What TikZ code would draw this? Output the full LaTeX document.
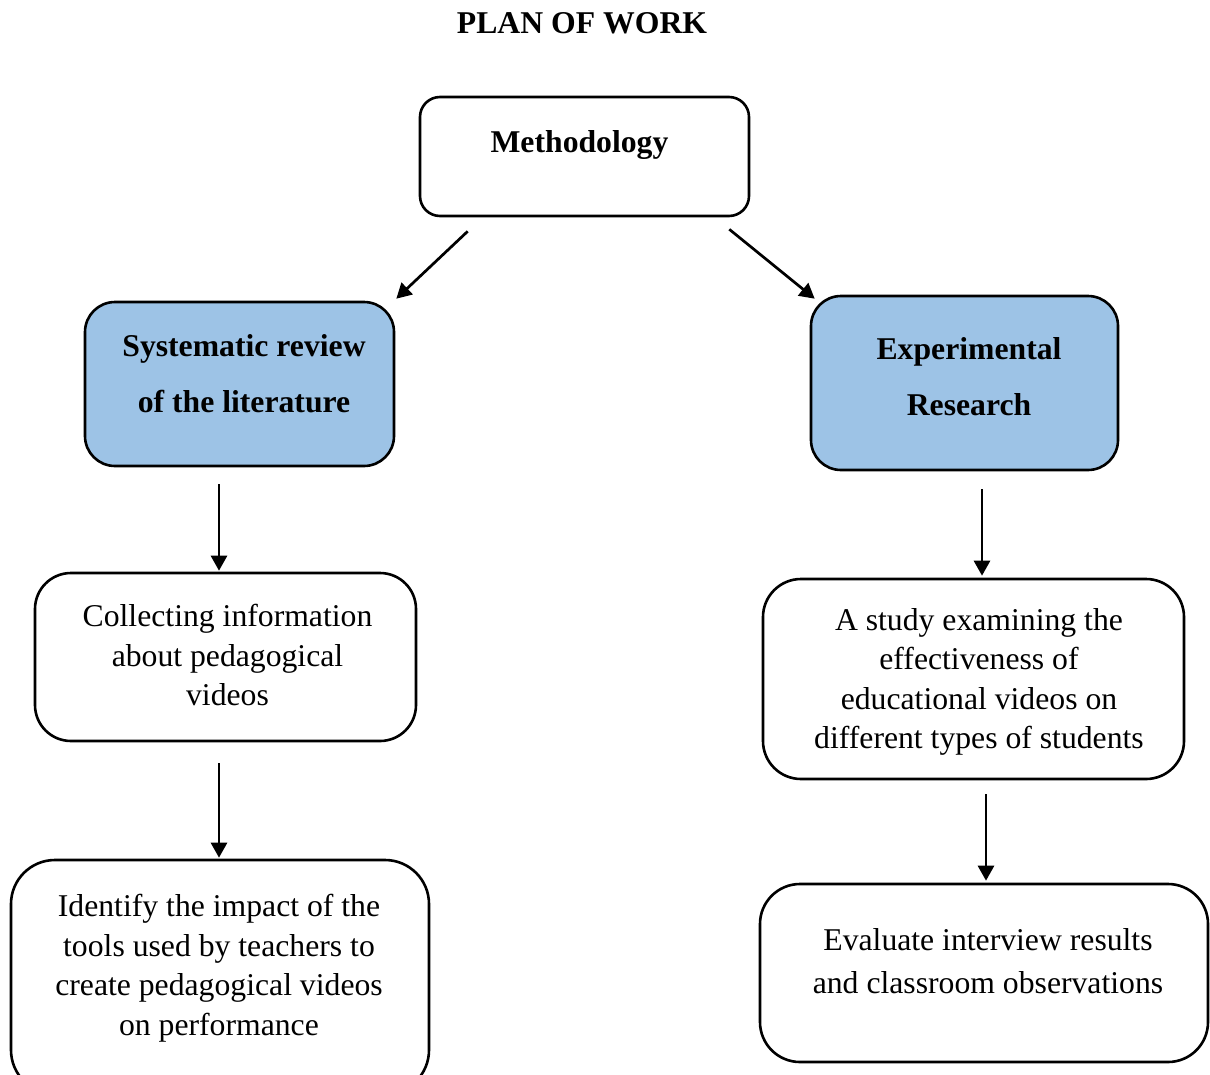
\documentclass[tikz,border=0pt]{standalone}
\usepackage{fontspec}
\setmainfont{Liberation Serif}
\usetikzlibrary{arrows.meta}
\definecolor{boxblue}{RGB}{157,195,230}
\tikzset{
  box/.style={draw=black, line width=2.6pt, rounded corners=30pt, fill=white, inner sep=0pt},
  bluebox/.style={box, fill=boxblue},
  txt/.style={align=center, inner sep=0pt, font=\fontsize{31.7}{39.5}\selectfont},
  btxt/.style={align=center, inner sep=0pt, font=\fontsize{31.7}{56}\selectfont\bfseries},
  arr/.style={line width=2.7pt, -{Triangle[length=15pt,width=16pt]}}
}
\begin{document}
\begin{tikzpicture}[x=1pt,y=-1pt]
\useasboundingbox (0,0) rectangle (1210,1074);
\fill[white] (0,0) rectangle (1210,1074);

\node[btxt] (title) at (582,23) {PLAN OF WORK};

% boxes
\node[box, rounded corners=20pt, minimum width=329pt, minimum height=119pt] (meth) at (584.5,156.5) {};
\node[bluebox, minimum width=309pt, minimum height=164pt] (sys) at (239.5,384) {};
\node[bluebox, minimum width=307pt, minimum height=174pt] (exp) at (964.5,383) {};
\node[box, rounded corners=36pt, minimum width=381pt, minimum height=168pt] (col) at (225.5,657) {};
\node[box, rounded corners=38pt, minimum width=421pt, minimum height=200pt] (stu) at (973.5,679) {};
\node[box, rounded corners=44pt, minimum width=418pt, minimum height=234pt] (iden) at (220,977) {};
\node[box, rounded corners=40pt, minimum width=448pt, minimum height=178pt] (eva) at (984,973) {};

% texts
\node[btxt] (methT) at (579.5,145) {Methodology};
\node[btxt] (sysT) at (244,374) {Systematic review\\of the literature};
\node[btxt] (expT) at (969,377) {Experimental\\Research};
\node[txt] (colT) at (227.5,655) {Collecting information\\about pedagogical\\videos};
\node[txt] (stuT) at (979,682) {A study examining the\\effectiveness of\\educational videos on\\different types of students};
\node[txt] (idenT) at (219,968) {Identify the impact of the\\tools used by teachers to\\create pedagogical videos\\on performance};
\node[txt, font=\fontsize{31.7}{43}\selectfont] (evaT) at (988,961) {Evaluate interview results\\and classroom observations};

% arrows
\draw[arr] ([xshift=49pt,yshift=-14pt]meth.south west) -- ([xshift=1pt,yshift=2pt]sys.north east);
\draw[arr] ([xshift=-21pt,yshift=-12pt]meth.south east) -- ([xshift=5pt,yshift=-4pt]exp.north west);
\draw[arr] ([xshift=-20.5pt,yshift=-17pt]sys.south) -- ([xshift=-6.5pt,yshift=1pt]col.north);
\draw[arr] ([xshift=-6.5pt,yshift=-21pt]col.south) -- ([xshift=-1pt,yshift=1pt]iden.north);
\draw[arr] ([xshift=17.5pt,yshift=-18pt]exp.south) -- ([xshift=8.5pt,yshift=2pt]stu.north);
\draw[arr] ([xshift=12.5pt,yshift=-14pt]stu.south) -- ([xshift=2pt,yshift=2pt]eva.north);
\end{tikzpicture}
\end{document}
